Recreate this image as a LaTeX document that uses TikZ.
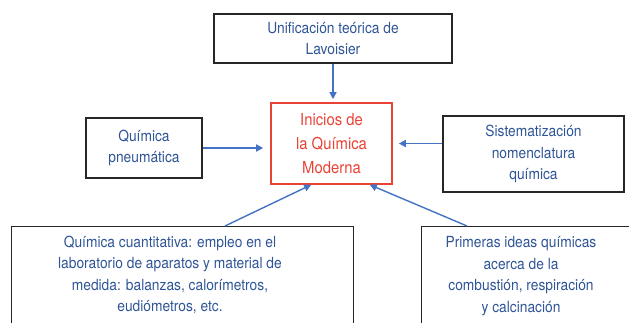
\documentclass[tikz,border=0pt]{standalone}
\usepackage{fontspec}
\setmainfont{TeX Gyre Heros}[FakeStretch=0.9]
\usetikzlibrary{arrows.meta,calc}
\definecolor{azulflecha}{RGB}{68,114,196}
\definecolor{azultexto}{RGB}{47,85,151}
\definecolor{rojito}{RGB}{234,67,53}
\tikzset{>={Triangle[length=7pt,width=7pt]},
  caja/.style={draw=black!85, line width=1.1pt, inner sep=0pt},
  texto/.style={align=center, text=azultexto, font=\fontsize{15.3}{21.5}\selectfont, inner sep=0pt},
  central/.style={draw=rojito, line width=1.6pt, align=center, text=rojito, font=\fontsize{16.5}{24}\selectfont, inner sep=0pt},
  flecha/.style={->, azulflecha, line width=1.4pt}}
\begin{document}
\begin{tikzpicture}[x=1pt,y=-1pt]
	\useasboundingbox (0,0) rectangle (629,323);
	\clip (0,0) rectangle (629,323);

	\node[central, minimum width=121pt, minimum height=81pt] (ini) at (331.5,143.5) {Inicios de\\la Química\\Moderna};

	\node[caja, texto, minimum width=238pt, minimum height=49pt] (lav) at (333,38.5) {Unificación teórica de\\Lavoisier};
	\node[caja, texto, minimum width=116pt, minimum height=60pt] (neu) at (144,148) {Química\\pneumática};
	\node[caja, texto, minimum width=181pt, minimum height=76pt] (sis) at (533.5,154) {Sistematización\\nomenclatura\\química};

	% cajas de abajo, cortadas por el borde
	\node[caja, minimum width=342pt, minimum height=130pt, anchor=north west] (cuant) at (11,226) {};
	\node[texto] (cuanttxt) at (170,275) {Química cuantitativa: empleo en el\\laboratorio de aparatos y material de\\medida: balanzas, calorímetros,\\eudiómetros, etc.};
	\node[caja, minimum width=230pt, minimum height=130pt, anchor=north west] (prim) at (421,226) {};
	\node[texto] (primtxt) at (521,276) {Primeras ideas químicas\\acerca de la\\combustión, respiración\\y calcinación};

	\draw[flecha, shorten >=3pt] (lav.south) -- (lav.south |- ini.north);
	\draw[flecha, shorten >=7pt] (neu.east) -- (neu.east -| ini.west);
	\draw[flecha, shorten >=6pt] (ini.east -| sis.west) -- (ini.east);
	\draw[flecha] ($(cuant.north west)+(214,0)$) -- ($(ini.south west)+(41,0)$);
	\draw[flecha] ($(prim.north west)+(46,0)$) -- ($(ini.south east)+(-23,0)$);

\end{tikzpicture}
\end{document}
